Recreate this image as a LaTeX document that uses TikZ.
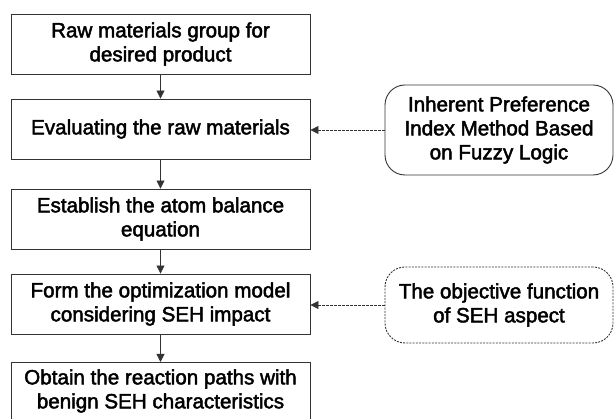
\documentclass[tikz,border=0pt]{standalone}
\usepackage{fontspec}
\setmainfont{Liberation Sans}
\newfontfamily\boxfont[FakeBold=2.2]{Liberation Sans}
\usetikzlibrary{arrows.meta}
\begin{document}
\begin{tikzpicture}[x=1pt,y=-1pt,
  label font/.style={font=\boxfont\fontsize{20.6}{24}\selectfont},
  stepbox/.style={draw=black!80, line width=0.9pt, minimum width=299pt, align=center,
    label font, inner sep=0pt},
  sidebox/.style={draw=black!80, line width=0.9pt, rounded corners=20pt, align=center,
    minimum width=228pt, label font, inner sep=0pt},
  flow/.style={draw=black!80, line width=0.8pt, -{Triangle[length=8pt,width=8pt]}},
  hint/.style={draw=black!80, line width=0.8pt, dashed, dash pattern=on 2.5pt off 1.5pt, -{Triangle[length=8pt,width=8pt]}}]
\useasboundingbox (0,0) rectangle (614,419);
\begin{scope}
\clip (0,0) rectangle (614,419);
\node[stepbox, minimum height=60pt] (s1) at (160.5,44) {Raw materials group for\\desired product};
\node[stepbox, minimum height=60pt] (s2) at (160.5,129) {Evaluating the raw materials};
\node[stepbox, minimum height=60pt] (s3) at (160.5,219) {Establish the atom balance\\equation};
\node[stepbox, minimum height=60pt] (s4) at (160.5,304) {Form the optimization model\\considering SEH impact};
\node[stepbox, minimum height=62pt, anchor=north] (s5) at (160.5,362) {};
\node[label font, align=center, inner sep=0pt] (t5) at (160.5,391) {Obtain the reaction paths with\\benign SEH characteristics};
\end{scope}
\node[sidebox, minimum height=90pt] (f1) at (499,130) {Inherent Preference\\Index Method Based\\on Fuzzy Logic};
\node[sidebox, minimum height=76pt, dashed, dash pattern=on 2pt off 1.2pt] (f2) at (499,305) {The objective function\\of SEH aspect};
\draw[flow] (s1) -- (s2);
\draw[flow] (s2) -- (s3);
\draw[flow] (s3) -- (s4);
\draw[flow] (s4) -- (s5);
\draw[hint] (f1.west) -- (s2.east |- f1.west);
\draw[hint] (f2.west) -- (s4.east |- f2.west);
\end{tikzpicture}
\end{document}
